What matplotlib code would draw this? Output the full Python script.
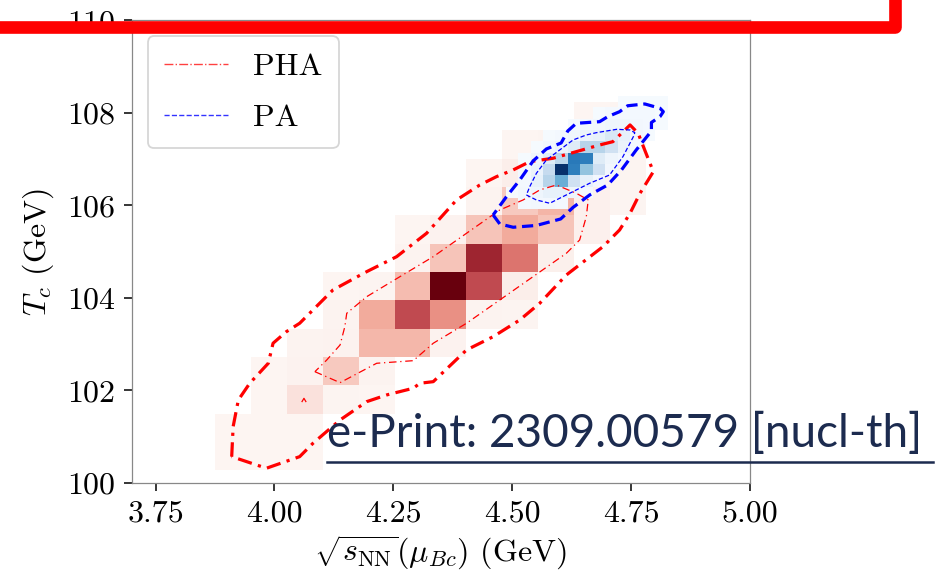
import numpy as np
import matplotlib.pyplot as plt
from matplotlib.lines import Line2D
from matplotlib.patches import Rectangle
from matplotlib.colors import LinearSegmentedColormap

plt.rcParams['font.family'] = 'serif'
plt.rcParams['font.serif'] = ['cmr10']
plt.rcParams['mathtext.fontset'] = 'cm'
plt.rcParams['axes.formatter.use_mathtext'] = True

# --- PHA posterior: 2D histogram (rows from bottom), normalised to its max ---
pha_x_edges = 3.875 + 0.0755 * np.arange(14)
pha_y_edges = 100.27 + 0.613 * np.arange(14)
pha_hist = np.array([
    [0.02, 0.02, 0.02, 0, 0, 0, 0, 0, 0, 0, 0, 0, 0],
    [0.02, 0.02, 0.02, 0, 0, 0, 0, 0, 0, 0, 0, 0, 0],
    [0, 0.02, 0.12, 0.03, 0.02, 0, 0, 0, 0, 0, 0, 0, 0],
    [0, 0.02, 0.05, 0.20, 0.04, 0, 0, 0, 0, 0, 0, 0, 0],
    [0, 0, 0.04, 0.05, 0.27, 0.27, 0.05, 0, 0, 0, 0, 0, 0],
    [0, 0, 0, 0.04, 0.32, 0.67, 0.42, 0.04, 0.03, 0, 0, 0, 0],
    [0, 0, 0, 0.02, 0.03, 0.25, 1.00, 0.67, 0.08, 0, 0, 0, 0],
    [0, 0, 0, 0, 0, 0.04, 0.22, 0.83, 0.52, 0.07, 0, 0, 0],
    [0, 0, 0, 0, 0, 0.02, 0.05, 0.22, 0.32, 0.22, 0.06, 0, 0],
    [0, 0, 0, 0, 0, 0, 0, 0.04, 0.20, 0.28, 0.06, 0.03, 0],
    [0, 0, 0, 0, 0, 0, 0, 0.02, 0.08, 0.12, 0.03, 0.03, 0],
    [0, 0, 0, 0, 0, 0, 0, 0, 0.02, 0.03, 0.03, 0.03, 0],
    [0, 0, 0, 0, 0, 0, 0, 0, 0, 0, 0.02, 0.03, 0],
])

# --- PA posterior: 2D histogram ---
pa_x_edges = 4.46 + 0.0262 * np.arange(15)
pa_y_edges = 105.67 + 0.245 * np.arange(12)
pa_hist = np.array([
    [0, 0, 0, 0, 0, 0, 0, 0, 0, 0, 0, 0, 0, 0],
    [0, 0, 0.02, 0.03, 0.03, 0.02, 0, 0, 0, 0, 0, 0, 0, 0],
    [0, 0.01, 0.03, 0.05, 0.08, 0.08, 0.05, 0.02, 0, 0, 0, 0, 0, 0],
    [0, 0, 0.02, 0.08, 0.30, 0.50, 0.20, 0.08, 0.03, 0, 0, 0, 0, 0],
    [0, 0, 0.02, 0.06, 0.25, 1.00, 0.70, 0.40, 0.20, 0.03, 0, 0, 0, 0],
    [0, 0, 0.01, 0.04, 0.12, 0.28, 0.72, 0.70, 0.12, 0.05, 0.02, 0, 0, 0],
    [0, 0, 0, 0.01, 0.03, 0.06, 0.12, 0.30, 0.30, 0.20, 0.06, 0.02, 0, 0],
    [0, 0, 0, 0, 0.01, 0.02, 0.04, 0.06, 0.08, 0.15, 0.08, 0.03, 0.01, 0],
    [0, 0, 0, 0, 0, 0, 0.01, 0.02, 0.03, 0.04, 0.04, 0.03, 0.02, 0.01],
    [0, 0, 0, 0, 0, 0, 0, 0, 0.01, 0.02, 0.02, 0.02, 0.02, 0.01],
    [0, 0, 0, 0, 0, 0, 0, 0, 0, 0, 0.01, 0.01, 0.01, 0.01],
])

# --- credible-region contours (x = sqrt(s_NN), y = T_c) ---
pha_outer = np.array([
    (3.910, 100.569), (3.913, 101.217), (3.924, 101.795), (3.948, 102.156),
    (3.987, 102.588), (3.997, 103.021), (4.025, 103.271), (4.053, 103.453),
    (4.123, 104.173), (4.194, 104.569), (4.257, 104.893), (4.320, 105.399),
    (4.383, 106.119), (4.432, 106.443), (4.467, 106.623), (4.502, 106.768),
    (4.537, 106.947), (4.586, 107.021), (4.635, 107.164), (4.684, 107.308),
    (4.712, 107.380), (4.748, 107.741), (4.765, 107.561), (4.783, 107.092),
    (4.797, 106.731), (4.769, 106.264), (4.748, 105.831), (4.726, 105.470),
    (4.691, 105.109), (4.614, 104.497), (4.558, 103.885), (4.516, 103.524),
    (4.460, 103.163), (4.404, 102.876), (4.334, 102.190), (4.306, 102.156),
    (4.292, 102.048), (4.236, 101.903), (4.194, 101.758), (4.138, 101.362),
    (4.081, 100.858), (4.053, 100.569), (3.983, 100.318), (3.910, 100.569),
])
pha_inner = np.array([
    (4.085, 102.406), (4.138, 102.169), (4.215, 102.588), (4.292, 102.644),
    (4.334, 103.021), (4.404, 103.453), (4.474, 103.957), (4.544, 104.461),
    (4.614, 104.966), (4.642, 105.254), (4.656, 105.758), (4.660, 106.119),
    (4.635, 106.264), (4.593, 106.443), (4.558, 106.335), (4.523, 106.119),
    (4.474, 105.903), (4.404, 105.399), (4.334, 104.893), (4.264, 104.461),
    (4.194, 104.028), (4.152, 103.669), (4.148, 103.380), (4.138, 102.984),
    (4.110, 102.659), (4.085, 102.406),
])
pha_island = np.array([(4.058, 101.76), (4.062, 101.83), (4.066, 101.76)])
pa_outer = np.array([
    (4.460, 105.795), (4.474, 105.600), (4.502, 105.529), (4.551, 105.568),
    (4.602, 105.708), (4.628, 105.957), (4.663, 106.227), (4.701, 106.443),
    (4.730, 106.768), (4.761, 107.200), (4.793, 107.611), (4.793, 107.795),
    (4.811, 107.920), (4.818, 108.028), (4.811, 108.102), (4.779, 108.195),
    (4.743, 108.156), (4.726, 108.028), (4.701, 107.920), (4.684, 107.812),
    (4.635, 107.777), (4.617, 107.611), (4.603, 107.351), (4.572, 107.222),
    (4.544, 106.962), (4.516, 106.551), (4.488, 106.190), (4.460, 105.795),
])
pa_inner = np.array([
    (4.530, 106.227), (4.551, 106.119), (4.579, 106.048), (4.621, 106.264),
    (4.663, 106.480), (4.705, 106.659), (4.733, 107.055), (4.755, 107.488),
    (4.758, 107.574), (4.748, 107.632), (4.720, 107.647), (4.677, 107.574),
    (4.656, 107.524), (4.628, 107.416), (4.600, 107.200), (4.572, 106.984),
    (4.551, 106.696), (4.537, 106.407), (4.530, 106.227),
])

xticks = [3.75, 4.00, 4.25, 4.50, 4.75, 5.00]
xtick_labels = ['3.75', '4.00', '4.25', '4.50', '4.75', '5.00']
yticks = [100, 102, 104, 106, 108, 110]
ytick_labels = ['100', '102', '104', '106', '108', '110']

# muted red map as in the slide
reds = LinearSegmentedColormap.from_list('pha', [
    (0.0, '#fdf7f5'), (0.08, '#fbeeea'), (0.17, '#f8d0c8'), (0.33, '#f2a898'),
    (0.5, '#e07a72'), (0.67, '#c04a50'), (0.83, '#9e2530'), (1.0, '#68000d')])

fig = plt.figure(figsize=(9.42, 5.77), dpi=100)
ax = fig.add_axes([0.140, 0.163, 0.656, 0.8015])

ax.pcolormesh(pha_x_edges, pha_y_edges, np.ma.masked_equal(pha_hist, 0),
              cmap=reds, vmin=0, vmax=1, zorder=1)
ax.pcolormesh(pa_x_edges, pa_y_edges, np.ma.masked_equal(pa_hist, 0),
              cmap='Blues', vmin=0, vmax=1, zorder=2)

red_thick = (0, (4.5, 2, 1, 2))
red_thin = (0, (6, 3, 1, 3))
ax.plot(pha_outer[:, 0], pha_outer[:, 1], color='red', lw=2.3, ls=red_thick, zorder=3)
ax.plot(pha_inner[:, 0], pha_inner[:, 1], color='red', lw=0.9, ls=red_thin, zorder=3)
ax.plot(pha_island[:, 0], pha_island[:, 1], color='red', lw=0.9, zorder=3)
ax.plot(pa_outer[:, 0], pa_outer[:, 1], color='blue', lw=2.3, ls=(0, (3.5, 1.8)), zorder=4)
ax.plot(pa_inner[:, 0], pa_inner[:, 1], color='blue', lw=0.9, ls=(0, (3.5, 1.8)), zorder=4)

ax.set_xlim(3.70, 5.00)
ax.set_ylim(100, 110)
ax.set_xticks(xticks, xtick_labels)
ax.set_yticks(yticks, ytick_labels)
ax.tick_params(labelsize=23, length=6, width=1.1, pad=6)
for s in ax.spines.values():
    s.set_color('#888888')
    s.set_linewidth(0.9)

ax.set_xlabel(r'$\sqrt{s_{\rm NN}}(\mu_{Bc})$ (GeV)', fontsize=23, labelpad=4)
ax.set_ylabel(r'$T_c$ (GeV)', fontsize=23, labelpad=8)

handles = [Line2D([], [], color='red', lw=1.0, ls='-.', alpha=0.75),
           Line2D([], [], color='blue', lw=1.0, ls='--', alpha=0.8)]
leg = ax.legend(handles, ['PHA', 'PA'], loc='upper left', fontsize=23,
                edgecolor='#cccccc', framealpha=0.8, labelspacing=0.72, borderpad=0.5)
leg.get_frame().set_linewidth(1.3)

# slide decorations: red frame and reference text
fig.add_artist(Rectangle((-0.1, 0.9532), 0.9496 + 0.1, 0.3, transform=fig.transFigure,
                         fill=False, edgecolor='#ff0000', lw=9.1, joinstyle='round',
                         clip_on=False, zorder=10))

txt = fig.text(327 / 942, 1 - 447 / 577, 'e-Print: 2309.00579 [nucl-th]',
               family='Lato', fontsize=34, color='#1c2b4f', ha='left', va='baseline')
fig.canvas.draw()
w = txt.get_window_extent().width
txt.set_fontsize(34 * 595 / w)
fig.add_artist(Line2D([327 / 942, 933 / 942], [1 - 462 / 577] * 2, transform=fig.transFigure,
                      color='#1c2b4f', lw=1.8))

fig.savefig('out.png', dpi=100)
